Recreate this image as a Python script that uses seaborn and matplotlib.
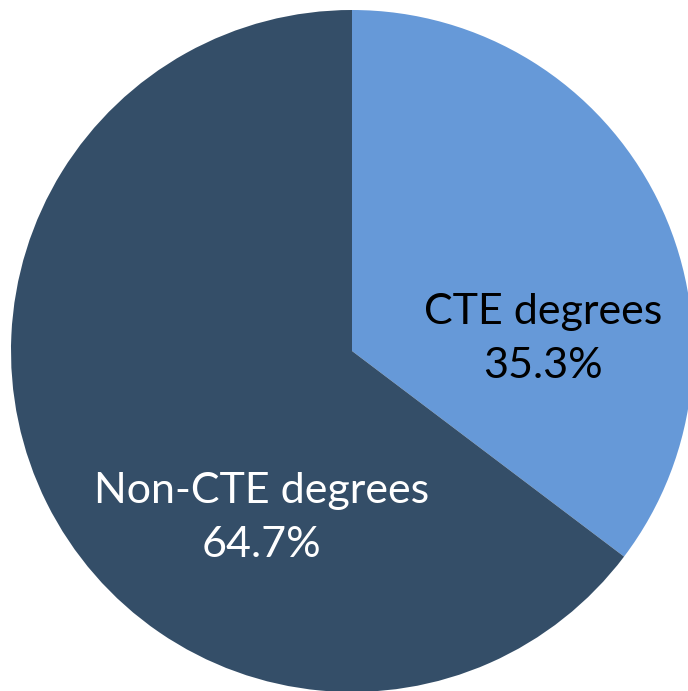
import matplotlib.pyplot as plt
import seaborn as sns

# data
categories = ["CTE degrees", "Non-CTE degrees"]
shares = [35.3, 64.7]
colors = ["#6699D8", "#344E68"]
label_colors = ["black", "white"]

sns.set_theme(style="white")
plt.rcParams['font.family'] = ['Lato', 'DejaVu Sans']

fig = plt.figure(figsize=(6.88, 6.91), dpi=100)
# axes sized so the pie fills the canvas like the original
ax = fig.add_axes([11 / 688, -1 / 691, 682 / 688, 682 / 691])

wedges, texts, autotexts = ax.pie(
    shares, colors=colors, startangle=90, counterclock=False,
    labels=None, autopct="%1.1f%%", pctdistance=0.56,
    wedgeprops=dict(linewidth=0),
)

# Excel-like label placement: name + percent, two lines
label_pos = [(0.56, 0.035), (-0.265, -0.49)]
for t, name, pct, c, pos in zip(autotexts, categories, shares, label_colors, label_pos):
    t.set_text(f"{name}\n{pct:.1f}%")
    t.set_color(c)
    t.set_fontsize(31)
    t.set_linespacing(1.5)
    t.set_position(pos)
    t.set_ha("center")
    t.set_va("center")

ax.set_xlim(-1, 1)
ax.set_ylim(-1, 1)
ax.set_aspect("equal")
ax.axis("off")

plt.savefig("out.png", dpi=100)
